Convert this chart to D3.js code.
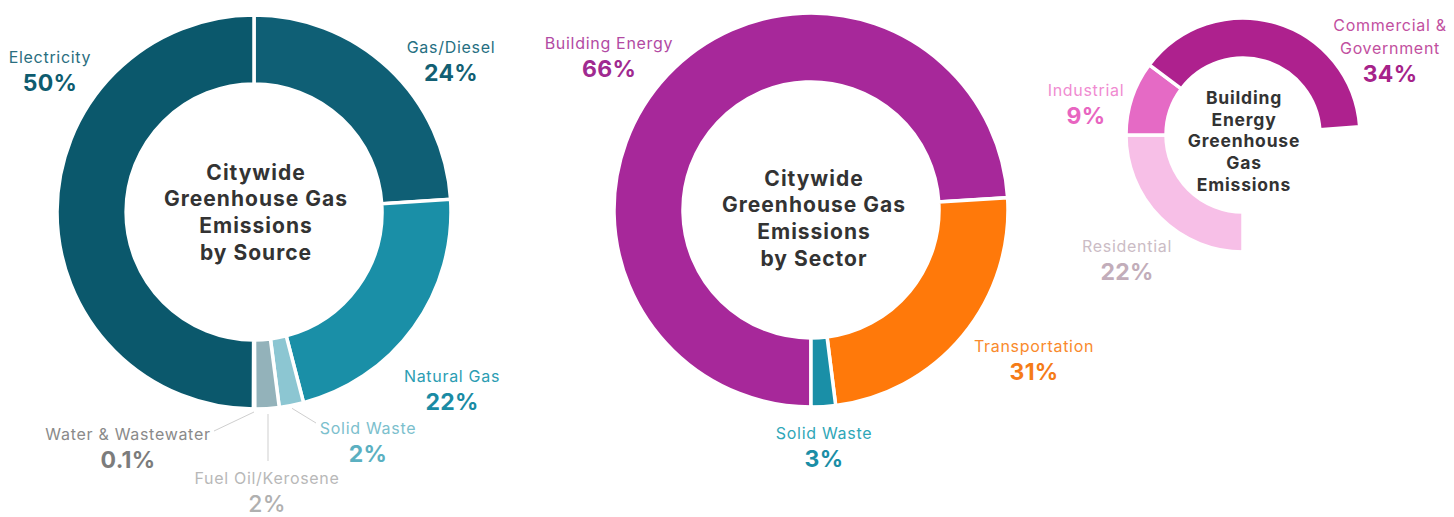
<!DOCTYPE html>
<html><head><meta charset="utf-8">
<script src="https://cdn.jsdelivr.net/npm/d3@7"></script>
<style>
html,body{margin:0;padding:0;background:#fff;}
svg{display:block;}
text{font-family:Inter,"Open Sans",sans-serif;}
</style></head>
<body><svg id="chart" width="1454" height="517"></svg>
<script>
// ---- Data ----
// Citywide GHG by source (clockwise from 12 o'clock)
const sourceNames  = ["Gas/Diesel", "Natural Gas", "Solid Waste", "Fuel Oil/Kerosene", "Water & Wastewater", "Electricity"];
const sourceValues = [24, 22, 2, 2, 0.1, 50];
const sourceLabels = ["24%", "22%", "2%", "2%", "0.1%", "50%"];

// Citywide GHG by sector (clockwise from 6 o'clock)
const sectorNames  = ["Building Energy", "Transportation", "Solid Waste"];
const sectorLabels = ["66%", "31%", "3%"];
// arc extents as drawn in the reference ring (the drawing is not proportional to the labels)
const sectorArcShare = [74, 24, 2];

// Building energy GHG breakdown (partial ring, clockwise from 6 o'clock)
const buildingNames  = ["Residential", "Industrial", "Commercial & Government"];
const buildingValues = [22, 9, 34];
const buildingLabels = ["22%", "9%", "34%"];

// ---- Styles / layout ----
const deg = Math.PI / 180;
const svg = d3.select("#chart");

const sourceColors = d3.scaleOrdinal().domain(sourceNames)
  .range(["#0f5f75", "#1a8fa7", "#8cc6d2", "#93b2ba", "#a3b5ba", "#0b586c"]);
const sourceText = {
  "Gas/Diesel": ["#266f82", "#125f73"],
  "Natural Gas": ["#2b9db3", "#1a8ba4"],
  "Solid Waste": ["#7cc0cd", "#5bb0c1"],
  "Fuel Oil/Kerosene": ["#b8b8b8", "#b0b0b0"],
  "Water & Wastewater": ["#8a8a8a", "#7c7c7c"],
  "Electricity": ["#2a6e80", "#0e5c6f"]
};
const sourcePos = {
  "Gas/Diesel": [451, 53], "Natural Gas": [452, 382], "Solid Waste": [368, 434],
  "Fuel Oil/Kerosene": [267, 484], "Water & Wastewater": [128, 440], "Electricity": [50, 63]
};

const sectorColors = d3.scaleOrdinal().domain(sectorNames)
  .range(["#a7289a", "#ff790a", "#1a8fa7"]);
const sectorText = {
  "Building Energy": ["#b24aa3", "#a02a90"],
  "Transportation": ["#f98a2c", "#f57c18"],
  "Solid Waste": ["#2fa7b8", "#1a8ea6"]
};
const sectorPos = {
  "Building Energy": [609, 49], "Transportation": [1034, 352], "Solid Waste": [824, 439]
};

const buildingColors = d3.scaleOrdinal().domain(buildingNames)
  .range(["#f7bfe7", "#e56ac5", "#ae218e"]);
const buildingText = {
  "Residential": ["#cbbcc5", "#c2adba"],
  "Industrial": ["#f08bd1", "#e865c1"],
  "Commercial & Government": ["#c2509f", "#a6238a"]
};
const buildingPos = {
  "Residential": [1127, 252], "Industrial": [1086, 96], "Commercial & Government": [1390, 54]
};

const LABEL_SIZE = 16, LABEL_LS = 0.7;

function ring(g, data, pie, arc, color) {
  const arcs = pie(data);
  g.selectAll("path").data(arcs).join("path")
    .attr("d", arc)
    .attr("fill", d => color(d.data.name))
    .attr("stroke", "#fff")
    .attr("stroke-width", 3.5)
    .attr("stroke-linejoin", "miter");
  return arcs;
}

function label(name, pct, pos, cols, opts = {}) {
  const t = svg.append("text").attr("text-anchor", "middle")
    .attr("x", pos[0]).attr("y", pos[1]);
  const lines = opts.lines || [name];
  lines.forEach((ln, i) => {
    t.append("tspan").attr("x", pos[0]).attr("dy", i === 0 ? 0 : 23)
      .attr("font-size", LABEL_SIZE).attr("letter-spacing", LABEL_LS)
      .attr("font-weight", 400).attr("fill", cols[0]).text(ln);
  });
  t.append("tspan").attr("x", pos[0]).attr("dy", 28)
    .attr("font-size", 23).attr("letter-spacing", 0.3).attr("font-weight", opts.light ? 500 : 700)
    .attr("fill", cols[1]).text(pct);
}

function centerTitle(cx, cy, lines, size, lh, ls) {
  const t = svg.append("text").attr("text-anchor", "middle")
    .attr("font-size", size).attr("font-weight", 700).attr("fill", "#333")
    .attr("letter-spacing", ls);
  const y0 = cy - (lines.length - 1) * lh / 2 + size * 0.36;
  lines.forEach((ln, i) => t.append("tspan").attr("x", cx).attr("y", y0 + i * lh).text(ln));
}

// ---- Chart 1: by source ----
{
  const cx = 254, cy = 212, rO = 197, rI = 128;
  const g = svg.append("g").attr("transform", `translate(${cx},${cy})`);
  const data = sourceNames.map((n, i) => ({ name: n, value: sourceValues[i], label: sourceLabels[i] }));
  const pie = d3.pie().sort(null).value(d => d.value).startAngle(0).endAngle(2 * Math.PI);
  const arc = d3.arc().innerRadius(rI).outerRadius(rO);
  const arcs = ring(g, data, pie, arc, sourceColors);

  // leader lines for the small slices
  const leader = {
    "Solid Waste": [[303 - cx, 413 - cy], [316 - cx, 423 - cy]],
    "Fuel Oil/Kerosene": [[268 - cx, 414 - cy], [268 - cx, 461 - cy]],
    "Water & Wastewater": [[252 - cx, 412 - cy], [214 - cx, 431 - cy]]
  };
  arcs.forEach(a => {
    const L = leader[a.data.name];
    if (!L) return;
    const mid = (a.startAngle + a.endAngle) / 2;
    const r0 = rO + 3;
    const p0 = a.data.name === "Fuel Oil/Kerosene" ? L[0] : [Math.sin(mid) * r0, -Math.cos(mid) * r0];
    g.append("line").attr("x1", p0[0]).attr("y1", p0[1]).attr("x2", L[1][0]).attr("y2", L[1][1])
      .attr("stroke", "#cfcfcf").attr("stroke-width", 1);
  });

  data.forEach(d => label(d.name, d.label, sourcePos[d.name], sourceText[d.name],
    { light: d.name === "Fuel Oil/Kerosene" }));
  centerTitle(cx + 2, cy, ["Citywide", "Greenhouse Gas", "Emissions", "by Source"], 21, 26.7, 1);
}

// ---- Chart 2: by sector ----
{
  const cx = 811, cy = 210, rO = 197, rI = 128;
  const g = svg.append("g").attr("transform", `translate(${cx},${cy})`);
  const data = sectorNames.map((n, i) => ({ name: n, value: sectorArcShare[i], label: sectorLabels[i] }));
  const pie = d3.pie().sort(null).value(d => d.value).startAngle(180 * deg).endAngle(540 * deg);
  const arc = d3.arc().innerRadius(rI).outerRadius(rO);
  ring(g, data, pie, arc, sectorColors);
  data.forEach(d => label(d.name, d.label, sectorPos[d.name], sectorText[d.name]));
  centerTitle(cx + 3, cy + 8, ["Citywide", "Greenhouse Gas", "Emissions", "by Sector"], 21, 26.7, 1);
}

// ---- Chart 3: building energy breakdown ----
{
  const cx = 1243, cy = 135, rO = 117, rI = 77;
  const g = svg.append("g").attr("transform", `translate(${cx},${cy})`);
  const data = buildingNames.map((n, i) => ({ name: n, value: buildingValues[i], label: buildingLabels[i] }));
  const pie = d3.pie().sort(null).value(d => d.value).startAngle(180 * deg).endAngle(446 * deg);
  const arc = d3.arc().innerRadius(rI).outerRadius(rO);
  ring(g, data, pie, arc, buildingColors);
  data.forEach(d => label(d.name, d.label, buildingPos[d.name], buildingText[d.name],
    d.name === "Commercial & Government" ? { lines: ["Government"] } : {}));
  // first line of the two-line label
  svg.append("text").attr("text-anchor", "middle").attr("x", 1390).attr("y", 31)
    .attr("font-size", LABEL_SIZE).attr("letter-spacing", LABEL_LS)
    .attr("fill", buildingText["Commercial & Government"][0]).text("Commercial &");
  centerTitle(cx + 1, cy + 6, ["Building", "Energy", "Greenhouse", "Gas", "Emissions"], 17.5, 21.6, 0.8);
}
</script></body></html>
